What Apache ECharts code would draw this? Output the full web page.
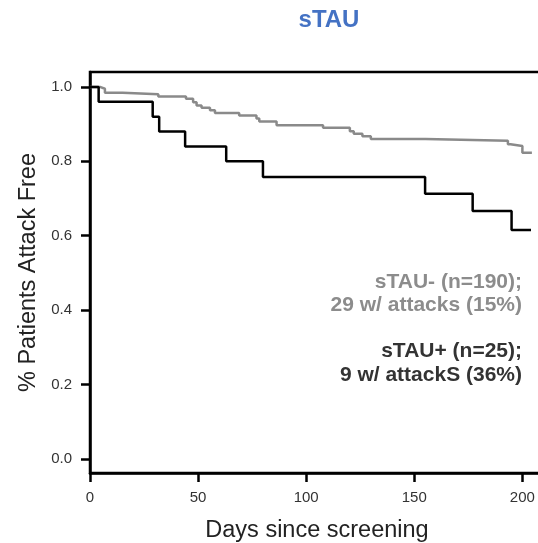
<!DOCTYPE html>
<html>
<head>
<meta charset="utf-8">
<script src="https://cdn.jsdelivr.net/npm/echarts@6/dist/echarts.min.js"></script>
<style>
  html, body { margin: 0; padding: 0; background: #fff; }
  #chart { width: 538px; height: 543px; }
</style>
</head>
<body>
<div id="chart"></div>
<script>
// sTAU+ (n=25) - black curve
const posDays = [0, 4, 29, 32, 44, 63, 80, 155, 177, 195, 204];
const posSurv = [1.0, 0.96, 0.92, 0.88, 0.84, 0.80, 0.758, 0.713, 0.666, 0.615, 0.615];
// sTAU- (n=190) - gray curve
const negDays = [0, 4.6, 6.9, 15.1, 31.6, 44.4, 47.7, 49.3, 51.6, 55.5, 57.8, 69, 77, 78.3, 86.3, 107.8, 120.2, 122, 126, 129.9, 155.2, 193.3, 194.5, 200, 204.4];
const negSurv = [1.0, 0.995, 0.984, 0.98, 0.974, 0.968, 0.959, 0.95, 0.944, 0.937, 0.93, 0.923, 0.915, 0.907, 0.897, 0.89, 0.881, 0.874, 0.867, 0.86, 0.855, 0.846, 0.841, 0.823, 0.823];
const xTicks = [0, 50, 100, 150, 200];
const yTicks = [0, 0.2, 0.4, 0.6, 0.8, 1.0];

// Kaplan-Meier style steps: hold previous value until the event time, then drop
function kmSteps(days, surv) {
  const pts = [[days[0], surv[0]]];
  for (let i = 1; i < days.length; i++) {
    pts.push([days[i], surv[i - 1]]);
    pts.push([days[i], surv[i]]);
  }
  return pts;
}

const chart = echarts.init(document.getElementById("chart"));
const font = "Liberation Sans, Arial, sans-serif";

chart.setOption({
  animation: false,
  textStyle: { fontFamily: font },
  grid: {
    left: 90,
    top: 72,
    width: 454,
    bottom: 70,
    outerBoundsMode: "none",
    show: true,
    borderColor: "#000",
    borderWidth: 2.5,
  },
  xAxis: {
    type: "value",
    min: 0,
    max: 210,
    name: "Days since screening",
    nameLocation: "middle",
    nameGap: 46,
    nameTextStyle: { fontSize: 23.5, color: "#222", fontFamily: font },
    splitLine: { show: false },
    axisLine: { onZero: false, lineStyle: { color: "#000", width: 2.5 } },
    axisTick: { length: 9, lineStyle: { color: "#000", width: 2.5 }, customValues: xTicks },
    axisLabel: { customValues: xTicks, color: "#333", fontSize: 15, margin: 17 },
  },
  yAxis: {
    type: "value",
    min: -0.038,
    max: 1.04,
    name: "% Patients Attack Free",
    nameLocation: "middle",
    nameGap: 43,
    nameTextStyle: { fontSize: 23.5, color: "#222", fontFamily: font },
    splitLine: { show: false },
    axisLine: { show: true, onZero: false, lineStyle: { color: "#000", width: 2.5 } },
    axisTick: { show: true, length: 9, lineStyle: { color: "#000", width: 2.5 }, customValues: yTicks },
    axisLabel: {
      customValues: yTicks,
      color: "#333",
      fontSize: 15,
      margin: 18,
      formatter: (v) => v.toFixed(1),
    },
  },
  graphic: [
    {
      type: "text",
      x: 329, y: 20,
      style: { text: "sTAU", fill: "#4472c4", font: "bold 24px " + font, textAlign: "center", textVerticalAlign: "middle" },
    },
    {
      type: "text",
      x: 522, y: 293.5,
      style: { text: "sTAU- (n=190);\n29 w/ attacks (15%)", fill: "#8c8c8c", font: "bold 21px " + font, textAlign: "right", textVerticalAlign: "middle", lineHeight: 23 },
    },
    {
      type: "text",
      x: 522, y: 363,
      style: { text: "sTAU+ (n=25);\n9 w/ attackS (36%)", fill: "#333", font: "bold 21px " + font, textAlign: "right", textVerticalAlign: "middle", lineHeight: 23.5 },
    },
  ],
  series: [
    {
      name: "sTAU-",
      type: "line",
      symbol: "none",
      lineStyle: { color: "#8a8a8a", width: 2.5 },
      data: kmSteps(negDays, negSurv),
    },
    {
      name: "sTAU+",
      type: "line",
      symbol: "none",
      lineStyle: { color: "#000", width: 2.5 },
      data: kmSteps(posDays, posSurv),
    },
  ],
});
</script>
</body>
</html>
